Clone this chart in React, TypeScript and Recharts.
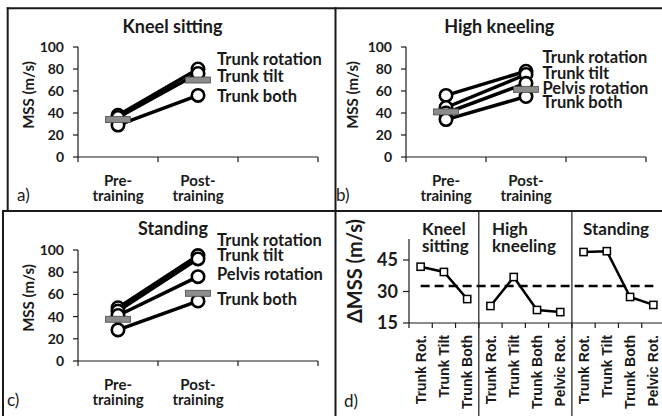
import React from "react";
import { ComposedChart, Line, XAxis, YAxis } from "recharts";

const INK = "#1a1a1a";
const FONT = "Lato, 'Open Sans', sans-serif";
const ARIAL = "'Liberation Sans', Arial, sans-serif";

// panels a-c: MSS before and after training
const phases = ["Pre-training", "Post-training", ""];
const mssTicks = [0, 20, 40, 60, 80, 100];

const kneelRotation = [38, 80];
const kneelTilt = [36, 76];
const kneelBoth = [29, 56];
const kneelMean = [34, 70];

const highRotation = [56, 78];
const highTilt = [45, 75];
const highPelvis = [40, 67];
const highBoth = [34, 55];
const highMean = [41, 61.5];

const standRotation = [48, 95];
const standTilt = [45, 92];
const standPelvis = [41, 76];
const standBoth = [28, 54];
const standMean = [37.6, 61];

// panel d: change in MSS
const deltaCats = [
  "Trunk Rot.", "Trunk Tilt", "Trunk Both",
  "Trunk Rot.", "Trunk Tilt", "Trunk Both", "Pelvic Rot.",
  "Trunk Rot.", "Trunk Tilt", "Trunk Both", "Pelvic Rot.",
];
const deltaKneel = [41.8, 39.3, 26.4];
const deltaHigh = [23.1, 36.9, 21.2, 20.2];
const deltaStand = [48.8, 49.2, 27.4, 23.6];
const deltaAverage = 32.6;
const deltaTicks = [15, 30, 45];
const groupStarts = [0, deltaKneel.length, deltaKneel.length + deltaHigh.length];

const deltaRows = deltaCats.map((cat, i) => ({
  id: `c${i}`,
  cat,
  kneel: i < groupStarts[1] ? deltaKneel[i] : null,
  high: i >= groupStarts[1] && i < groupStarts[2] ? deltaHigh[i - groupStarts[1]] : null,
  stand: i >= groupStarts[2] ? deltaStand[i - groupStarts[2]] : null,
  average: deltaAverage,
}));

type Series = { key: string; name: string; values: number[]; dy: number };

const circleDot = (name: string, dx: number, dy: number) => (p: any) => {
  if (p.value == null || p.cy == null) return <g key={p.index} />;
  return (
    <g key={p.index}>
      <circle cx={p.cx} cy={p.cy} r={6.2} fill="#fff" stroke="#000" strokeWidth={2.6} />
      {p.index === 1 && (
        <text x={p.cx + dx} y={p.cy + dy} fontFamily={FONT} fontWeight={700} fontSize={16.5} fill={INK}>
          {name}
        </text>
      )}
    </g>
  );
};

const meanDot = (p: any) => {
  if (p.value == null || p.cy == null) return <g key={p.index} />;
  return <rect key={p.index} x={p.cx - 12.5} y={p.cy - 3} width={25} height={6} fill="#8c8c8c" stroke="#4a4a4a" strokeWidth={0.8} />;
};

const squareDot = (p: any) => {
  if (p.value == null || p.cy == null) return <g key={p.index} />;
  return <rect key={p.index} x={p.cx - 3.6} y={p.cy - 3.6} width={7.2} height={7.2} fill="#fff" stroke="#000" strokeWidth={1.5} />;
};

function PhaseTick(props: any) {
  const { x, y, payload, index, band } = props;
  const label: string = payload?.value || "";
  const cut = label.indexOf("-") + 1;
  const parts = label ? [label.slice(0, cut), label.slice(cut)] : [];
  return (
    <g>
      {index === 0 &&
        phases.map((_, k) => (
          <line key={k} x1={x - band / 2 + k * band} x2={x - band / 2 + k * band} y1={y} y2={y + 5} stroke={INK} strokeWidth={1.2} />
        ))}
      {index === 0 && <line x1={x + band * 2.5} x2={x + band * 2.5} y1={y} y2={y + 5} stroke={INK} strokeWidth={1.2} />}
      {parts.map((t, i) => (
        <text key={i} x={x} y={y + 29 + i * 15} textAnchor="middle" fontFamily={FONT} fontWeight={700} fontSize={15} fill={INK}>
          {t}
        </text>
      ))}
    </g>
  );
}

function DeltaTick(props: any) {
  const { x, y, index, band } = props;
  const x0 = x - band / 2 - index * band;
  return (
    <g>
      {index === 0 &&
        [...deltaCats, ""].map((_, k) => (
          <line key={k} x1={x0 + k * band} x2={x0 + k * band} y1={y} y2={y + 5} stroke={INK} strokeWidth={1.2} />
        ))}
      {index === 0 &&
        groupStarts.slice(1).map((g) => (
          <line key={`g${g}`} x1={x0 + g * band} x2={x0 + g * band} y1={y - 112} y2={y + 93} stroke={INK} strokeWidth={1.2} />
        ))}
      <text transform={`translate(${x},${y + 12}) rotate(-90)`} textAnchor="end" dy="0.36em" fontFamily={ARIAL} fontWeight={700} fontSize={14} fill={INK}>
        {deltaCats[index]}
      </text>
    </g>
  );
}

function PrePostPanel(props: {
  left: number; top: number; width: number; height: number;
  marginTop: number; marginRight: number; yAxisWidth: number; xAxisHeight: number;
  series: Series[]; mean: number[]; labelDx: number;
}) {
  const { left, top, width, height, marginTop, marginRight, yAxisWidth, xAxisHeight, series, mean, labelDx } = props;
  const rows = phases.map((phase, i) => {
    const row: any = { phase, mean: mean[i] ?? null };
    series.forEach((s) => (row[s.key] = s.values[i] ?? null));
    return row;
  });
  const band = (width - yAxisWidth - marginRight) / phases.length;
  return (
    <div style={{ position: "absolute", left, top }}>
      <ComposedChart width={width} height={height} data={rows} margin={{ top: marginTop, right: marginRight, bottom: 0, left: 0 }}>
        <XAxis
          dataKey="phase" scale="band" interval={0} tickLine={false} tickSize={0} tickMargin={0} height={xAxisHeight}
          axisLine={{ stroke: INK, strokeWidth: 1.2 }}
          tick={(p: any) => <PhaseTick {...p} band={band} />}
        />
        <YAxis
          type="number" domain={[0, 100]} ticks={mssTicks} interval={0} width={yAxisWidth} tickSize={5} tickMargin={9}
          axisLine={{ stroke: INK, strokeWidth: 1.2 }} tickLine={{ stroke: INK, strokeWidth: 1.2 }}
          tick={{ fill: INK, fontSize: 14, fontWeight: 700, fontFamily: FONT }}
        />
        {series.map((s) => (
          <Line key={s.key} dataKey={s.key} type="linear" stroke="#000" strokeWidth={3.5} isAnimationActive={false} activeDot={false} dot={circleDot(s.name, labelDx, s.dy)} />
        ))}
        <Line dataKey="mean" stroke="none" isAnimationActive={false} activeDot={false} dot={meanDot} />
      </ComposedChart>
    </div>
  );
}

const txt = { fontFamily: FONT, fontWeight: 700, fill: INK } as const;

export default function App() {
  return (
    <div style={{ position: "absolute", left: 0, top: 0, width: 662, height: 416, overflow: "hidden", background: "#fff", fontFamily: FONT }}>
      <PrePostPanel
        left={0} top={0} width={335} height={210} marginTop={47} marginRight={17} yAxisWidth={78} xAxisHeight={53} labelDx={19}
        mean={kneelMean}
        series={[
          { key: "rot", name: "Trunk rotation", values: kneelRotation, dy: -4 },
          { key: "tilt", name: "Trunk tilt", values: kneelTilt, dy: 8.3 },
          { key: "both", name: "Trunk both", values: kneelBoth, dy: 6.3 },
        ]}
      />
      <PrePostPanel
        left={335} top={0} width={327} height={210} marginTop={47} marginRight={16} yAxisWidth={71} xAxisHeight={53} labelDx={16.5}
        mean={highMean}
        series={[
          { key: "rot", name: "Trunk rotation", values: highRotation, dy: -7.9 },
          { key: "tilt", name: "Trunk tilt", values: highTilt, dy: 4.5 },
          { key: "pelvis", name: "Pelvis rotation", values: highPelvis, dy: 10.7 },
          { key: "both", name: "Trunk both", values: highBoth, dy: 11.8 },
        ]}
      />
      <PrePostPanel
        left={0} top={211} width={335} height={205} marginTop={39} marginRight={17} yAxisWidth={78} xAxisHeight={55} labelDx={19}
        mean={standMean}
        series={[
          { key: "rot", name: "Trunk rotation", values: standRotation, dy: -9.2 },
          { key: "tilt", name: "Trunk tilt", values: standTilt, dy: 2.4 },
          { key: "pelvis", name: "Pelvis rotation", values: standPelvis, dy: 3.1 },
          { key: "both", name: "Trunk both", values: standBoth, dy: 3.6 },
        ]}
      />
      <div style={{ position: "absolute", left: 335, top: 211 }}>
        <ComposedChart width={330} height={205} data={deltaRows} margin={{ top: 28, right: 0, bottom: 0, left: 0 }}>
          <XAxis
            dataKey="id" scale="band" interval={0} tickLine={false} tickSize={0} tickMargin={0} height={93}
            axisLine={{ stroke: INK, strokeWidth: 1.2 }}
            tick={(p: any) => <DeltaTick {...p} band={256 / deltaCats.length} />}
          />
          <YAxis
            type="number" domain={[15, 55]} ticks={deltaTicks} interval={0} width={74} tickSize={6} tickMargin={5}
            axisLine={{ stroke: INK, strokeWidth: 1.2 }} tickLine={{ stroke: INK, strokeWidth: 1.2 }}
            tick={{ fill: INK, fontSize: 18, fontWeight: 700, fontFamily: FONT }}
          />
          <Line dataKey="average" type="linear" stroke="#000" strokeWidth={2.6} strokeDasharray="9 5" dot={false} activeDot={false} isAnimationActive={false} />
          {["kneel", "high", "stand"].map((k) => (
            <Line key={k} dataKey={k} type="linear" stroke="#000" strokeWidth={2.5} dot={squareDot} activeDot={false} isAnimationActive={false} />
          ))}
        </ComposedChart>
      </div>
      <svg width={662} height={416} style={{ position: "absolute", left: 0, top: 0, pointerEvents: "none" }}>
        <g stroke={INK} strokeWidth={2}>
          <line x1={6.7} y1={8.3} x2={662} y2={8.3} />
          <line x1={7.7} y1={7.3} x2={7.7} y2={211} />
          <line x1={3} y1={210} x2={3} y2={416} />
          <line x1={335.5} y1={7.3} x2={335.5} y2={416} />
          <line x1={2} y1={211} x2={662} y2={211} />
        </g>
        <text x={172.5} y={33.3} textAnchor="middle" fontSize={18} {...txt}>Kneel sitting</text>
        <text x={499.3} y={33.3} textAnchor="middle" fontSize={18} {...txt}>High kneeling</text>
        <text x={173} y={234.7} textAnchor="middle" fontSize={18} {...txt}>Standing</text>
        <text transform="translate(28.3,95) rotate(-90)" textAnchor="middle" dy="0.35em" fontSize={15} {...txt}>MSS (m/s)</text>
        <text transform="translate(352.3,95) rotate(-90)" textAnchor="middle" dy="0.35em" fontSize={15} {...txt}>MSS (m/s)</text>
        <text transform="translate(28.3,298) rotate(-90)" textAnchor="middle" dy="0.35em" fontSize={15} {...txt}>MSS (m/s)</text>
        <text transform="translate(355,271) rotate(-90)" textAnchor="middle" dy="0.35em" fontSize={20} {...txt}>ΔMSS (m/s)</text>
        <text x={422} y={234.7} fontSize={17} {...txt}>Kneel</text>
        <text x={422} y={251.7} fontSize={17} {...txt}>sitting</text>
        <text x={492} y={234.7} fontSize={17} {...txt}>High</text>
        <text x={492} y={251.7} fontSize={17} {...txt}>kneeling</text>
        <text x={583} y={234.7} fontSize={17} {...txt}>Standing</text>
        <g fontFamily={FONT} fontSize={17} fill={INK}>
          <text x={17} y={201}>a)</text>
          <text x={336} y={201}>b)</text>
          <text x={7} y={406}>c)</text>
          <text x={344} y={407}>d)</text>
        </g>
      </svg>
    </div>
  );
}
